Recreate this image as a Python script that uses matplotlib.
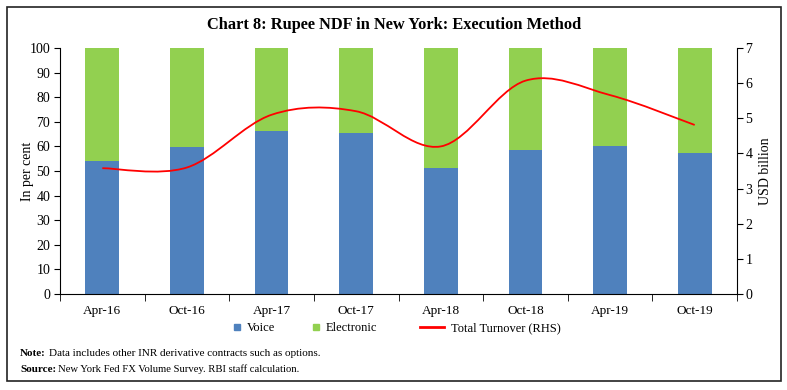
import matplotlib
matplotlib.use("Agg")
import matplotlib.pyplot as plt
import matplotlib.patches as patches
from matplotlib.path import Path
from matplotlib.lines import Line2D
import numpy as np

plt.rcParams['font.family'] = ['Liberation Serif', 'DejaVu Serif']

# data
periods = ['Apr-16', 'Oct-16', 'Apr-17', 'Oct-17', 'Apr-18', 'Oct-18', 'Apr-19', 'Oct-19']
voice = [54.2, 59.8, 66.3, 65.4, 51.3, 58.7, 60.3, 57.3]
electronic = [100 - v for v in voice]
turnover = [3.58, 3.6, 5.1, 5.2, 4.2, 6.07, 5.66, 4.81]

blue = '#4F81BD'
green = '#92D050'
red = '#FF0000'

fig = plt.figure(figsize=(7.87, 3.9), dpi=100)
ax = fig.add_axes([60/787, 1-294/390, 677/787, 246/390])
x = np.arange(len(periods))
ax.bar(x, voice, width=0.4, color=blue, label='Voice')
ax.bar(x, electronic, width=0.4, bottom=voice, color=green, label='Electronic')
ax.set_xlim(-0.5, len(periods)-0.5)
ax.set_ylim(0, 100)
ax.set_yticks(range(0, 101, 10))
ax.set_xticks(x)
ax.set_xticklabels(periods)
ax.set_xticks(np.arange(-0.5, len(periods), 1), minor=True)
ax.tick_params(axis='x', which='major', length=0, pad=8, labelsize=9.5)
ax.tick_params(axis='x', which='minor', length=5, direction='out')
ax.tick_params(axis='y', length=4, direction='out', labelsize=10, pad=3)
for s in ['top', 'right']:
    ax.spines[s].set_visible(False)
ax.set_ylabel('In per cent', fontsize=10)
ax.yaxis.set_label_coords((34-60)/677, 0.5)

ax2 = ax.twinx()
ax2.set_ylim(0, 7)
ax2.set_yticks(range(0, 8))
ax2.tick_params(axis='y', length=4, direction='out', labelsize=10, pad=2)
for s in ['top', 'left', 'bottom']:
    ax2.spines[s].set_visible(False)
ax2.set_ylabel('USD billion', fontsize=10)
ax2.yaxis.set_label_coords((759-60)/677, 0.5)

# smoothed line (Excel style) built as cubic bezier path through the points
pts = np.column_stack([x, turnover])
verts = [pts[0]]
codes = [Path.MOVETO]
n = len(pts)
for i in range(n-1):
    p0 = pts[max(i-1, 0)]
    p1 = pts[i]
    p2 = pts[i+1]
    p3 = pts[min(i+2, n-1)]
    c1 = p1 + (p2 - p0) / 6.0
    c2 = p2 - (p3 - p1) / 6.0
    verts += [c1, c2, p2]
    codes += [Path.CURVE4]*3
line = patches.PathPatch(Path(verts, codes), fc='none', ec=red, lw=1.3)
ax2.add_patch(line)

# legend entries placed one by one
leg_y = 1 - 328/390
entries = [
    (Line2D([], [], marker='s', ls='', color=blue, markersize=4.5), 'Voice', 234, 0.5, 0.5),
    (Line2D([], [], marker='s', ls='', color=green, markersize=4.5), 'Electronic', 313, 0.5, 0.5),
    (Line2D([], [], color=red, lw=2), 'Total Turnover (RHS)', 420, 1.9, 0.55),
]
for h, lab, px, hl, tp in entries:
    fig.legend([h], [lab], loc='center left', bbox_to_anchor=(px/787, leg_y),
               frameon=False, fontsize=9, handlelength=hl,
               handletextpad=tp, borderpad=0, borderaxespad=0)

fig.text(394/787, 1-25/390, 'Chart 8: Rupee NDF in New York: Execution Method',
         ha='center', va='center', fontsize=11.8, fontweight='bold')
fig.text(20/787, 1-353/390, 'Note:', fontsize=8, fontweight='bold', va='center')
fig.text(49/787, 1-353/390, 'Data includes other INR derivative contracts such as options.',
         fontsize=8, va='center')
fig.text(20/787, 1-369/390, 'Source:', fontsize=8, fontweight='bold', va='center')
fig.text(58/787, 1-369/390, 'New York Fed FX Volume Survey. RBI staff calculation.',
         fontsize=7.7, va='center')

fig.add_artist(patches.Rectangle((7/787, 1-381/390), 774/787, 374/390,
                                 transform=fig.transFigure, fill=False,
                                 ec='#222222', lw=1.2))

fig.savefig('out.png', dpi=100)
